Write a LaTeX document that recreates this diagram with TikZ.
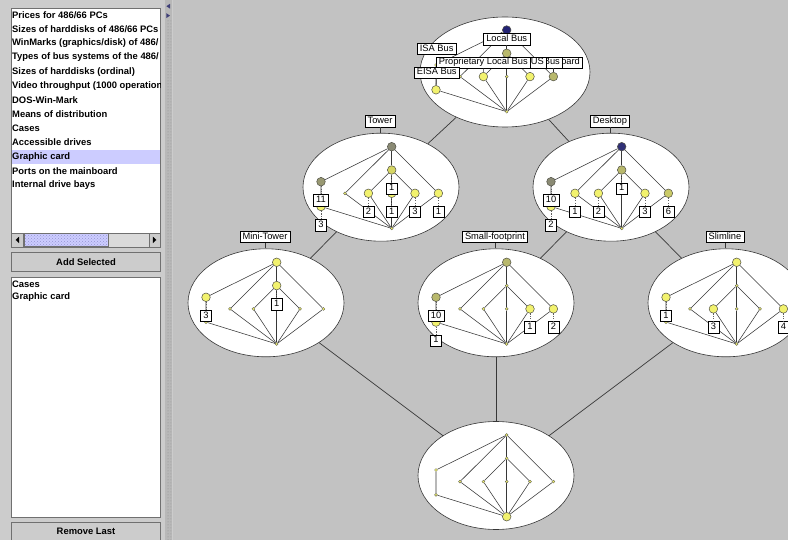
\documentclass[tikz,border=0pt]{standalone}
\usepackage{fontspec}
\setmainfont{Liberation Sans}
\usetikzlibrary{shapes.geometric,patterns}

\definecolor{panelbg}{RGB}{204,204,204}
\definecolor{canvasbg}{RGB}{194,194,194}
\definecolor{listline}{RGB}{112,112,112}
\definecolor{selbg}{RGB}{204,204,255}
\definecolor{thumbdot}{RGB}{150,150,210}
\definecolor{trackc}{RGB}{218,218,218}
\definecolor{lineg}{RGB}{55,55,55}
\definecolor{nodeline}{RGB}{80,80,70}
\definecolor{navy}{RGB}{34,34,116}
\definecolor{grayol}{RGB}{138,138,116}
\definecolor{olive}{RGB}{184,184,108}
\definecolor{ylolive}{RGB}{214,214,100}
\definecolor{yel}{RGB}{242,242,110}

\pgfdeclarelayer{base}
\pgfdeclarelayer{cells}
\pgfdeclarelayer{edges}
\pgfsetlayers{base,cells,edges,main}

\tikzset{
  item/.style={anchor=west, inner sep=0pt, font=\fontsize{9.4}{11}\selectfont\bfseries},
  button/.style={draw=listline, fill=panelbg, line width=0.6pt, minimum width=149pt,
    minimum height=19pt, inner sep=0pt, font=\fontsize{9.4}{11}\selectfont\bfseries},
  cell/.style={ellipse, draw=lineg, fill=white, line width=0.6pt, minimum width=156pt,
    minimum height=108pt, inner sep=0pt},
  link/.style={draw=lineg, line width=0.7pt},
  edge/.style={draw=lineg, line width=0.55pt},
  tag/.style={draw=black, fill=white, line width=0.45pt, font=\fontsize{9.3}{11}\selectfont,
    inner xsep=2.6pt, inner ysep=1.5pt, text height=6.6pt, text depth=1.9pt},
  cnt/.style={tag, inner xsep=2.8pt},
  cntline/.style={draw=lineg!80, line width=0.45pt, dash pattern=on 1.2pt off 1.2pt},
  tiny/.style={circle, draw=nodeline, fill=yel, line width=0.3pt, inner sep=0pt, minimum size=3pt},
  big/.style={minimum size=8.6pt, line width=0.5pt},
  % coloured concept nodes
  alT/.style={big, fill=navy}, alU/.style={big, fill=olive}, alE/.style={big, fill=yel},
  alM2/.style={big, fill=yel}, alM4/.style={big, fill=yel}, alM5/.style={big, fill=olive},
  twT/.style={big, fill=grayol}, twU/.style={big, fill=ylolive}, twA/.style={big, fill=grayol!70!olive},
  twE/.style={big, fill=yel}, twM2/.style={big, fill=yel}, twM3/.style={big, fill=yel},
  twM4/.style={big, fill=yel}, twM5/.style={big, fill=yel},
  dkT/.style={big, fill=navy!85!gray}, dkU/.style={big, fill=olive}, dkA/.style={big, fill=grayol},
  dkE/.style={big, fill=yel}, dkM1/.style={big, fill=yel}, dkM2/.style={big, fill=yel},
  dkM4/.style={big, fill=yel}, dkM5/.style={big, fill=ylolive!60!olive},
  mtT/.style={big, fill=yel}, mtU/.style={big, fill=yel}, mtA/.style={big, fill=yel},
  sfT/.style={big, fill=olive}, sfA/.style={big, fill=olive}, sfE/.style={big, fill=yel},
  sfM4/.style={big, fill=yel}, sfM5/.style={big, fill=yel},
  slT/.style={big, fill=yel}, slA/.style={big, fill=yel}, slM2/.style={big, fill=yel},
  slM5/.style={big, fill=yel},
  btB/.style={big, fill=yel},
}

% inner line diagram, #1 = name prefix, (#2,#3) = its top concept
\newcommand{\lattice}[3]{%
  \begin{scope}[shift={(#2,#3)}]
    \node[tiny, #1T/.try]  (#1T)  at (0,0)          {};
    \node[tiny, #1U/.try]  (#1U)  at (0,23.3)       {};
    \node[tiny, #1A/.try]  (#1A)  at (-70.7,35)     {};
    \node[tiny, #1E/.try]  (#1E)  at (-70.7,59.8)   {};
    \node[tiny, #1M1/.try] (#1M1) at (-46.7,46.6)   {};
    \node[tiny, #1M2/.try] (#1M2) at (-23.3,46.6)   {};
    \node[tiny, #1M3/.try] (#1M3) at (0,46.6)       {};
    \node[tiny, #1M4/.try] (#1M4) at (23.3,46.6)    {};
    \node[tiny, #1M5/.try] (#1M5) at (46.7,46.6)    {};
    \node[tiny, #1B/.try]  (#1B)  at (0,81.7)       {};
  \end{scope}
  \begin{pgfonlayer}{edges}
    \draw[edge] (#1T) -- (#1A) -- (#1E) -- (#1B);
    \draw[edge] (#1T) -- (#1M1) -- (#1B);
    \draw[edge] (#1T) -- (#1U) -- (#1M3) -- (#1B);
    \draw[edge] (#1U) -- (#1M2) -- (#1B);
    \draw[edge] (#1U) -- (#1M4) -- (#1B);
    \draw[edge] (#1T) -- (#1M5) -- (#1B);
  \end{pgfonlayer}
}

% object count below a concept
\newcommand{\objcount}[2]{%
  \node[cnt] (#1c) at ([yshift=-18.5pt]#1.center) {#2};
  \draw[cntline] (#1) -- (#1c);
}

\begin{document}
\begin{tikzpicture}[x=1pt, y=-1pt]
  \useasboundingbox (0,0) rectangle (788,540);
  \begin{pgfonlayer}{base}
    \fill[panelbg] (0,0) rectangle (173,540);
    \fill[canvasbg] (173,0) rectangle (788,540);
  \end{pgfonlayer}

  % split pane divider
  \fill[panelbg!90!black] (164.5,0) rectangle (172,540);
  \fill[pattern=dots, pattern color=black!45] (165.5,21) rectangle (171,540);
  \fill[navy!70!gray] (170,3.8) -- (170,8.6) -- (166.4,6.2) -- cycle;
  \fill[navy!70!gray] (166.4,13.2) -- (166.4,18) -- (170,15.6) -- cycle;

  % attribute list
  \draw[listline, fill=white, line width=0.6pt] (11,8) rectangle (160.5,247.5);
  \fill[selbg] (11.5,150.2) rectangle (160,164);
  \begin{scope}
    \clip (11.5,8.5) rectangle (160,232);
    \foreach \t [count=\i] in {Prices for 486/66 PCs, Sizes of harddisks of 486/66 PCs,
        WinMarks (graphics/disk) of 486/, Types of bus systems of the 486/,
        Sizes of harddisks (ordinal), Video throughput (1000 operation, DOS-Win-Mark,
        Means of distribution, Cases, Accessible drives, Graphic card,
        Ports on the mainboard, Internal drive bays}
      \node[item] (att\i) at (12,{15+14.17*(\i-1)}) {\t};
  \end{scope}

  % scroll bar
  \fill[trackc] (11.5,233) rectangle (160,247);
  \fill[selbg] (24,233.5) rectangle (108.3,246.5);
  \fill[pattern=crosshatch dots, pattern color=thumbdot] (25,234.5) rectangle (107.3,245.5);
  \draw[listline, line width=0.5pt] (24,233.5) rectangle (108.3,246.5);
  \draw[listline, line width=0.5pt] (11.5,233) -- (160,233);
  \draw[listline, fill=panelbg, line width=0.5pt] (11.5,233) rectangle (23,247);
  \draw[listline, fill=panelbg, line width=0.5pt] (149,233) rectangle (160,247);
  \fill[black] (19.2,236.6) -- (19.2,243.2) -- (15.6,239.9) -- cycle;
  \fill[black] (152.8,236.6) -- (152.8,243.2) -- (156.4,239.9) -- cycle;

  \node[button] (addbtn) at (86,262.2) {Add Selected};

  % chosen nesting
  \draw[listline, fill=white, line width=0.6pt] (11,277) rectangle (160.5,517.5);
  \node[item] (nest1) at (12,284.3) {Cases};
  \node[item] (nest2) at (12,297) {Graphic card};

  \node[button] (rembtn) at (86,531.3) {Remove Last};

  % outer diagram (Cases)
  \begin{pgfonlayer}{cells}
    \node[cell, minimum width=170pt, minimum height=110pt] (all) at (505,72) {};
    \node[cell] (tower)    at (381,187.2) {};
    \node[cell] (desktop)  at (611,187.2) {};
    \node[cell] (mini)     at (266,302.8) {};
    \node[cell] (small)    at (496,302.8) {};
    \node[cell] (slim)     at (726,302.8) {};
    \node[cell] (bottom)   at (496,475.5) {};
    \draw[link] (all) -- (tower);
    \draw[link] (all) -- (desktop);
    \draw[link] (tower) -- (mini);
    \draw[link] (desktop) -- (small);
    \draw[link] (desktop) -- (slim);
    \draw[link] (mini) -- (bottom);
    \draw[link] (small) -- (bottom);
    \draw[link] (slim) -- (bottom);
  \end{pgfonlayer}

  \node[tag] (towerlab)   at (380,121.2) {Tower};
  \node[tag] (desktoplab) at (610,121.2) {Desktop};
  \node[tag] (minilab)    at (265,236.8) {Mini-Tower};
  \node[tag] (smalllab)   at (495,236.8) {Small-footprint};
  \node[tag] (slimlab)    at (725,236.8) {Slimline};
  \draw[edge] (towerlab) -- (towerlab |- tower.north);
  \draw[edge] (desktoplab) -- (desktoplab |- desktop.north);
  \draw[edge] (minilab) -- (minilab |- mini.north);
  \draw[edge] (smalllab) -- (smalllab |- small.north);
  \draw[edge] (slimlab) -- (slimlab |- slim.north);

  % inner diagrams (Graphic card)
  \lattice{al}{506.7}{30}
  \lattice{tw}{391.7}{146.7}
  \lattice{dk}{621.7}{146.7}
  \lattice{mt}{276.7}{262.3}
  \lattice{sf}{506.7}{262.3}
  \lattice{sl}{736.7}{262.3}
  \lattice{bt}{506.7}{435}

  % attribute labels of the top diagram
  \node[tag] (isa)   at (436.7,48.8) {ISA Bus};
  \node[tag] (local) at (506.7,39.2) {Local Bus};
  \node[tag, anchor=east] (onmb) at (582.7,62.5) {On Mainboard};
  \node[tag, anchor=east] (pci)  at (562.7,62.5) {PCI Local Bus};
  \node[tag, anchor=east] (vlb)  at (546.7,62.5) {VL-BUS};
  \node[tag] (prop)  at (483.3,62.5) {Proprietary Local Bus};
  \node[tag] (eisa)  at (436.7,72.5) {EISA Bus};
  \draw[edge] (local) -- (alU);
  \draw[edge] (prop) -- (alM2);
  \draw[edge] (eisa) -- (alE);
  \draw[edge] (onmb.south -| alM5) -- (alM5);

  % object counts
  \objcount{twA}{11} \objcount{twE}{3} \objcount{twU}{1} \objcount{twM2}{2}
  \objcount{twM3}{1} \objcount{twM4}{3} \objcount{twM5}{1}
  \objcount{dkA}{10} \objcount{dkE}{2} \objcount{dkU}{1} \objcount{dkM1}{1}
  \objcount{dkM2}{2} \objcount{dkM4}{3} \objcount{dkM5}{6}
  \objcount{mtA}{3} \objcount{mtU}{1}
  \objcount{sfA}{10} \objcount{sfE}{1} \objcount{sfM4}{1} \objcount{sfM5}{2}
  \objcount{slA}{1} \objcount{slM2}{3} \objcount{slM5}{4}
\end{tikzpicture}
\end{document}
